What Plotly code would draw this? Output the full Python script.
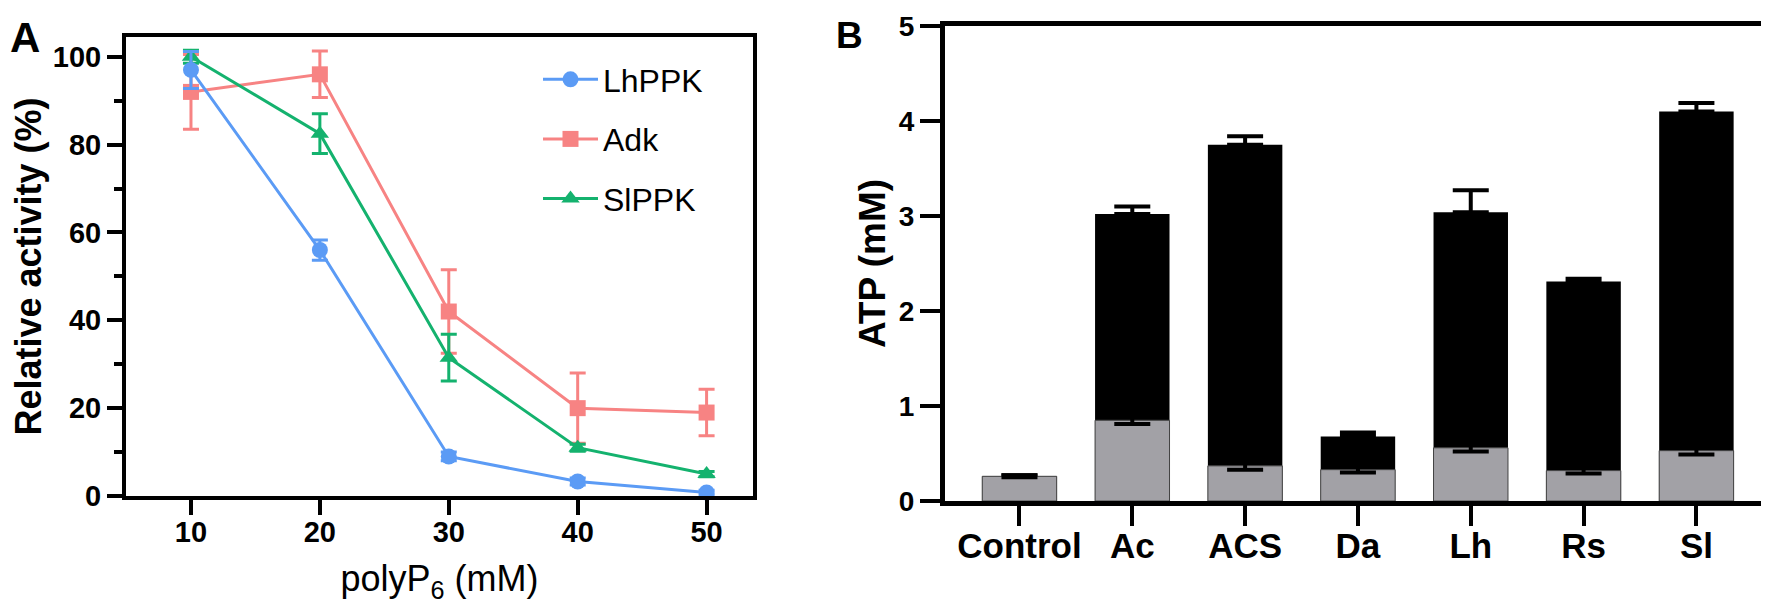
import plotly.graph_objects as go

# ---------------- Panel A data ----------------
polyp = [10, 20, 30, 40, 50]
lhppk = [97, 56, 9, 3.3, 0.8]
lhppk_err = [4.2, 2.3, 1.0, 0.8, 0.5]
adk = [92, 96, 42, 20, 19]
adk_err = [8.5, 5.3, 9.5, 8.0, 5.3]
slppk = [100, 82.5, 31.5, 11, 5]
slppk_err = [1.5, 4.5, 5.3, 0.8, 0.6]

# ---------------- Panel B data ----------------
groups = ["Control", "Ac", "ACS", "Da", "Lh", "Rs", "Sl"]
atp_total = [0.26, 3.02, 3.75, 0.68, 3.04, 2.31, 4.10]
atp_total_err = [0.01, 0.08, 0.09, 0.04, 0.23, 0.03, 0.09]
atp_base = [0.26, 0.85, 0.37, 0.33, 0.56, 0.32, 0.53]
atp_base_err = [0.01, 0.04, 0.04, 0.03, 0.04, 0.03, 0.04]

BLUE = "#5B9BF5"
RED = "#F78383"
GREEN = "#14B26E"
GRAY = "#A2A1A6"
FONT = "Liberation Sans, Arial, sans-serif"

fig = go.Figure()

def line_trace(name, y, err, color, symbol, rank):
    return go.Scatter(
        x=polyp, y=y, name=name, mode="lines+markers",
        line=dict(color=color, width=3),
        marker=dict(color=color, size=16, symbol=symbol),
        error_y=dict(type="data", array=err, visible=True, color=color,
                     thickness=3, width=8),
        xaxis="x", yaxis="y", cliponaxis=False, legendrank=rank,
        legendgroup=name,
    )

fig.add_trace(line_trace("Adk", adk, adk_err, RED, "square", 2))
fig.add_trace(line_trace("SlPPK", slppk, slppk_err, GREEN, "triangle-up", 3))
fig.add_trace(line_trace("LhPPK", lhppk, lhppk_err, BLUE, "circle", 1))

zeros = [0] * len(groups)
fig.add_trace(go.Bar(
    x=groups, y=atp_total, xaxis="x2", yaxis="y2", width=0.66,
    marker=dict(color="black", line=dict(width=0)),
    error_y=dict(type="data", symmetric=False, array=atp_total_err,
                 arrayminus=zeros, color="black", thickness=4, width=18),
    showlegend=False,
))
fig.add_trace(go.Bar(
    x=groups, y=atp_base, xaxis="x2", yaxis="y2", width=0.66,
    marker=dict(color=GRAY, line=dict(width=1, color="#444444")),
    error_y=dict(type="data", array=atp_base_err, color="black",
                 thickness=4, width=18),
    showlegend=False,
))

W, H = 1769, 602
def px(xp):
    return xp / W
def py(yp):
    return 1 - yp / H

axis_common = dict(
    showgrid=False, zeroline=False, showline=True, linecolor="black",
    ticks="outside", tickcolor="black", mirror=True, automargin=False,
)

fig.update_layout(
    template="none",
    width=W, height=H,
    margin=dict(l=0, r=0, t=0, b=0, pad=0),
    paper_bgcolor="white", plot_bgcolor="white",
    barmode="overlay",
    font=dict(family=FONT, color="black"),
    showlegend=True,
    legend=dict(
        x=px(530), y=py(44), xanchor="left", yanchor="top",
        font=dict(size=32, family=FONT, color="black"),
        bgcolor="rgba(0,0,0,0)", tracegroupgap=15, itemwidth=55,
    ),
    xaxis=dict(
        **axis_common,
        domain=[px(118), px(745)], anchor="y",
        range=[4.96, 53.6], tickvals=polyp,
        linewidth=4, ticklen=15, tickwidth=4, ticklabelstandoff=-8,
        tickfont=dict(size=29, family=FONT, weight="bold"),
        title=dict(text="polyP<sub>6</sub> (mM)", standoff=20,
                   font=dict(size=36, family=FONT)),
    ),
    yaxis=dict(
        **axis_common,
        domain=[py(488), py(29)], anchor="x",
        range=[0, 104.5], tickvals=[0, 20, 40, 60, 80, 100],
        linewidth=4, ticklen=15, tickwidth=4,
        minor=dict(tickvals=[10, 30, 50, 70, 90], ticklen=8, tickwidth=4,
                   ticks="outside", tickcolor="black"),
        tickfont=dict(size=29, family=FONT, weight="bold"),
        title=dict(text="Relative activity (%)", standoff=15,
                   font=dict(size=36, family=FONT, weight="bold")),
    ),
    xaxis2=dict(
        **axis_common,
        domain=[px(937), px(1764)], anchor="y2",
        range=[-0.66, 6.67], type="category",
        linewidth=5, ticklen=20, tickwidth=4, ticklabelstandoff=-10,
        tickfont=dict(size=35, family=FONT, weight="bold"),
    ),
    yaxis2=dict(
        **axis_common,
        domain=[py(493), py(18)], anchor="x2",
        range=[0, 5], tickvals=[0, 1, 2, 3, 4, 5],
        linewidth=5, ticklen=20, tickwidth=4,
        tickfont=dict(size=28, family=FONT, weight="bold"),
        title=dict(text="ATP (mM)", standoff=3,
                   font=dict(size=37, family=FONT, weight="bold")),
    ),
    annotations=[
        dict(text="A", x=0, y=py(30), xref="paper", yref="paper",
             xanchor="left", yanchor="middle", showarrow=False,
             font=dict(size=42, family=FONT, weight="bold")),
        dict(text="B", x=px(826), y=py(28), xref="paper", yref="paper",
             xanchor="left", yanchor="middle", showarrow=False,
             font=dict(size=37, family=FONT, weight="bold")),
    ],
)

fig.write_html("out.html")
